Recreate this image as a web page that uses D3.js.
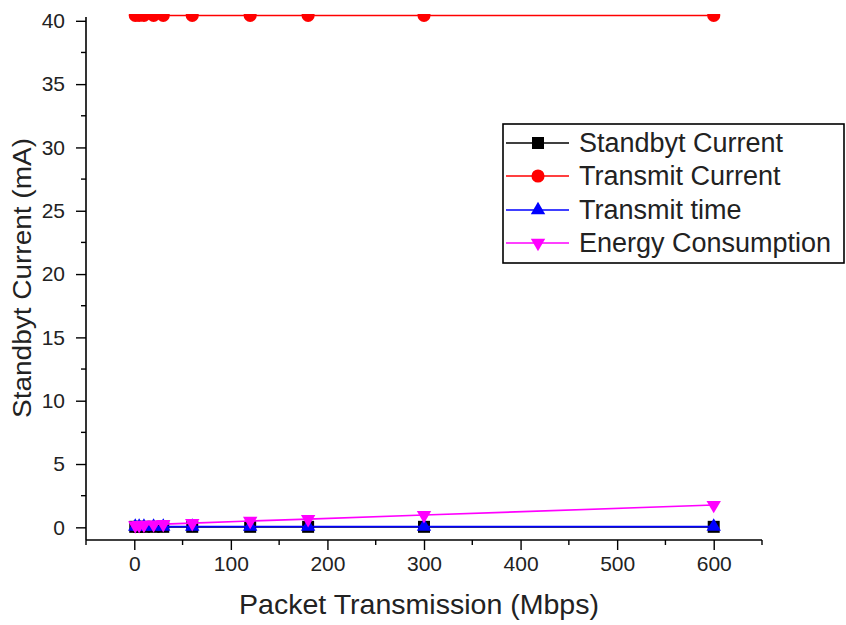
<!DOCTYPE html>
<html><head><meta charset="utf-8">
<script src="https://cdn.jsdelivr.net/npm/d3@7"></script>
<style>
html,body{margin:0;padding:0;background:#fff;}
text{font-family:"Liberation Sans",Arial,sans-serif;fill:#222;}
</style></head>
<body>
<svg id="chart" width="846" height="625"></svg>
<script>
const packetX = [1, 5, 10, 20, 30, 60, 120, 180, 300, 600];
const standbyCurrent = [0.04, 0.04, 0.04, 0.04, 0.04, 0.04, 0.04, 0.04, 0.04, 0.04];
const transmitCurrent = [40.42, 40.42, 40.42, 40.42, 40.42, 40.42, 40.42, 40.42, 40.42, 40.42];
const transmitTime = [0.06, 0.06, 0.06, 0.06, 0.06, 0.06, 0.06, 0.06, 0.06, 0.06];
const energyConsumption = [0.15, 0.17, 0.19, 0.22, 0.25, 0.33, 0.5, 0.65, 0.97, 1.76];
const seriesNames = ["Standbyt Current", "Transmit Current", "Transmit time", "Energy Consumption"];
const seriesColors = ["#000000", "#ff0000", "#0000ff", "#ff00ff"];
const xTickValues = [0, 100, 200, 300, 400, 500, 600];
const yTickValues = [0, 5, 10, 15, 20, 25, 30, 35, 40];
const xTitle = "Packet Transmission (Mbps)";
const yTitle = "Standbyt Current (mA)";

const svg = d3.select("#chart");
svg.append("rect").attr("width", 846).attr("height", 625).attr("fill", "#fff");

const x = d3.scaleLinear().domain([-50, 650]).range([86, 762]);
const y = d3.scaleLinear().domain([-1, 40.3]).range([540, 17]);

const seriesValues = [standbyCurrent, transmitCurrent, transmitTime, energyConsumption];
const symbols = [
  {type: d3.symbolSquare, size: 144, rot: 0},
  {type: d3.symbolCircle, size: 135, rot: 0},
  {type: d3.symbolTriangle, size: 90, rot: 0},
  {type: d3.symbolTriangle, size: 90, rot: 180}
];

svg.append("defs").append("clipPath").attr("id", "clipTop")
  .append("rect").attr("x", 0).attr("y", 14).attr("width", 846).attr("height", 620);

const plot = svg.append("g").attr("clip-path", "url(#clipTop)");
const line = d3.line().x(d => x(d[0])).y(d => y(d[1]));

seriesValues.forEach((vals, i) => {
  const pts = packetX.map((px, j) => [px, vals[j]]);
  const g = plot.append("g");
  g.append("path").datum(pts).attr("d", line)
    .attr("fill", "none").attr("stroke", seriesColors[i]).attr("stroke-width", 1.6);
  const sym = d3.symbol().type(symbols[i].type).size(symbols[i].size);
  g.selectAll("path.m").data(pts).join("path").attr("class", "m")
    .attr("d", sym)
    .attr("transform", d => `translate(${x(d[0])},${y(d[1])}) rotate(${symbols[i].rot})`)
    .attr("fill", seriesColors[i]);
});

// X axis
const xAxisG = svg.append("g").attr("transform", "translate(0,540)");
xAxisG.append("line").attr("x1", 86).attr("x2", 762).attr("stroke", "#000").attr("stroke-width", 1.6);
const xMinor = d3.range(-50, 651, 50).filter(v => v % 100 !== 0);
xAxisG.selectAll("line.minor").data(xMinor).join("line").attr("class", "minor")
  .attr("x1", d => x(d)).attr("x2", d => x(d)).attr("y1", 0).attr("y2", 5)
  .attr("stroke", "#000").attr("stroke-width", 1.4);
const xAxis = d3.axisBottom(x).tickValues(xTickValues).tickSize(10).tickPadding(6).tickFormat(d3.format("d"));
const xa = svg.append("g").attr("transform", "translate(0,540)").call(xAxis);
xa.select(".domain").remove();
xa.selectAll(".tick line").attr("stroke", "#000").attr("stroke-width", 1.4);
xa.selectAll(".tick text").attr("font-size", 21).attr("font-family", "Liberation Sans, Arial, sans-serif").attr("fill", "#222");

// Y axis
const yAxisG = svg.append("g").attr("transform", "translate(86,0)");
yAxisG.append("line").attr("y1", 17).attr("y2", 540).attr("stroke", "#000").attr("stroke-width", 1.6);
const yMinor = d3.range(2.5, 40, 5);
yAxisG.selectAll("line.minor").data(yMinor).join("line").attr("class", "minor")
  .attr("y1", d => y(d)).attr("y2", d => y(d)).attr("x1", 0).attr("x2", -5)
  .attr("stroke", "#000").attr("stroke-width", 1.4);
const yAxis = d3.axisLeft(y).tickValues(yTickValues).tickSize(10).tickPadding(11).tickFormat(d3.format("d"));
const ya = svg.append("g").attr("transform", "translate(86,0)").call(yAxis);
ya.select(".domain").remove();
ya.selectAll(".tick line").attr("stroke", "#000").attr("stroke-width", 1.4);
ya.selectAll(".tick text").attr("font-size", 21).attr("font-family", "Liberation Sans, Arial, sans-serif").attr("fill", "#222");

// Titles
svg.append("text").attr("x", 419).attr("y", 614).attr("text-anchor", "middle")
  .attr("font-size", 27.5).attr("textLength", 360).attr("lengthAdjust", "spacingAndGlyphs").text(xTitle);
svg.append("text").attr("transform", "translate(31,278) rotate(-90)").attr("text-anchor", "middle")
  .attr("font-size", 26).attr("textLength", 280).attr("lengthAdjust", "spacingAndGlyphs").text(yTitle);

// Legend
const lg = svg.append("g");
lg.append("rect").attr("x", 503).attr("y", 124).attr("width", 341).attr("height", 139)
  .attr("fill", "#fff").attr("stroke", "#000").attr("stroke-width", 1.6);
const rowY = [143, 176, 210, 243];
seriesNames.forEach((name, i) => {
  const ry = rowY[i];
  lg.append("line").attr("x1", 506).attr("x2", 569).attr("y1", ry).attr("y2", ry)
    .attr("stroke", seriesColors[i]).attr("stroke-width", 1.6);
  lg.append("path").attr("d", d3.symbol().type(symbols[i].type).size(symbols[i].size)())
    .attr("transform", `translate(538,${ry}) rotate(${symbols[i].rot})`).attr("fill", seriesColors[i]);
  lg.append("text").attr("x", 579).attr("y", ry + 9).attr("font-size", 27).text(name);
});
</script>
</body></html>
